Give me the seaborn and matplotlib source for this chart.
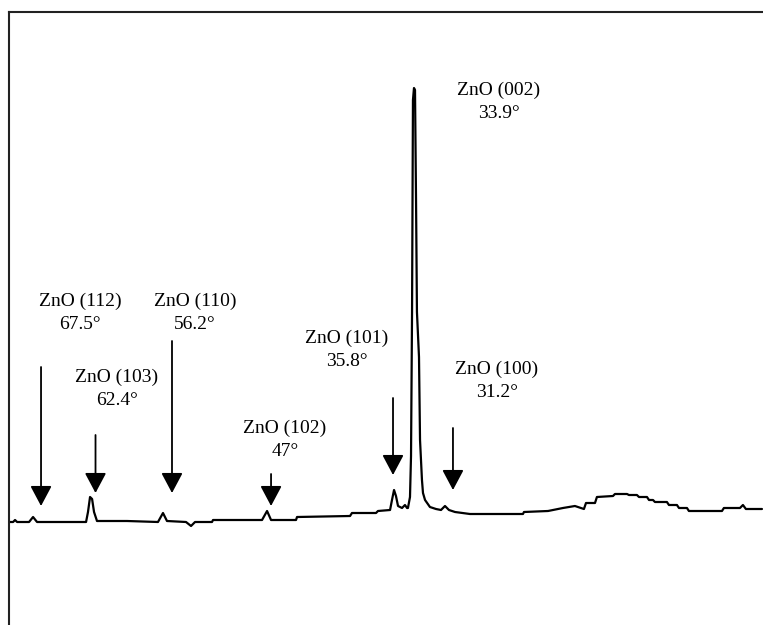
import pandas as pd
import seaborn as sns
import matplotlib.pyplot as plt

# XRD pattern of the ZnO film (2-theta in degrees, intensity in a.u.)
two_theta = [
    69.61, 69.25, 69.08, 68.90, 67.85, 67.50, 67.15, 62.85, 62.68, 62.50,
    62.32, 62.15, 61.89, 59.25, 56.54, 56.10, 55.75, 54.08, 53.64, 53.29,
    51.80, 51.71, 47.41, 46.97, 46.62, 44.43, 44.34, 39.69, 39.52, 37.41,
    37.24, 36.18, 36.01, 35.83, 35.66, 35.48, 35.13, 34.87, 34.69, 34.61,
    34.43, 34.34, 34.25, 34.17, 34.08, 33.99, 33.90, 33.82, 33.64, 33.55,
    33.38, 33.29, 33.11, 32.68, 32.15, 31.71, 31.36, 31.01, 30.48, 29.17,
    24.52, 24.43, 22.32, 21.01, 19.96, 19.17, 18.99, 18.20, 18.03, 16.62,
    16.45, 15.39, 15.22, 14.52, 14.34, 13.64, 13.46, 13.11, 12.94, 11.89,
    11.71, 11.01, 10.83, 10.13, 9.96, 7.06, 6.89, 5.48, 5.22, 4.96, 3.55,
]
intensity = [
    103, 103, 105, 103, 103, 108, 103, 103, 113, 128,
    126, 113, 104, 104, 103, 112, 104, 103, 99, 103,
    103, 105, 105, 114, 105, 105, 108, 109, 112, 112,
    114, 115, 125, 135, 129, 119, 117, 120, 117, 117,
    128, 169, 313, 525, 537, 535, 425, 313, 268, 185,
    145, 132, 125, 118, 116, 115, 119, 115, 113, 111,
    111, 113, 114, 117, 119, 116, 122, 122, 128, 129,
    131, 131, 130, 130, 128, 128, 125, 125, 123, 123,
    120, 120, 117, 117, 114, 114, 117, 117, 120, 116, 116,
]

# reflections: label, angle text, label centre, arrow x, arrow start, arrow tip
peak_names = ["ZnO (112)", "ZnO (103)", "ZnO (110)", "ZnO (102)",
              "ZnO (101)", "ZnO (002)", "ZnO (100)"]
peak_angles = ["67.5°", "62.4°", "56.2°", "47°", "35.8°", "33.9°", "31.2°"]
label_x = [63.38, 60.13, 53.29, 45.39, 39.96, 26.62, 26.80]
label_y = [312, 236, 312, 185, 275, 523, 244]
arrow_x = [66.80, 62.02, 55.31, 46.62, 35.92, None, 30.66]
arrow_top = [258, 190, 284, 151, 227, None, 197]
arrow_tip = [119, 132, 132, 119, 150, None, 135]

df = pd.DataFrame({"two_theta": two_theta, "intensity": intensity})

sns.set_style("white")
plt.rcParams["font.family"] = ["Liberation Serif", "DejaVu Serif"]

fig = plt.figure(figsize=(7.63, 6.25), dpi=100)
ax = fig.add_axes([9 / 763, 0, 1 - 9 / 763, 613 / 625])

sns.lineplot(data=df, x="two_theta", y="intensity", sort=False,
             estimator=None, color="black", lw=1.6, ax=ax)

for name, ang, lx, ly in zip(peak_names, peak_angles, label_x, label_y):
    ax.text(lx, ly, f"{name}\n{ang}", ha="center", va="center",
            fontsize=14, linespacing=1.5, color="black")

for xa, top, tip in zip(arrow_x, arrow_top, arrow_tip):
    if xa is None:
        continue
    ax.annotate("", xy=(xa, tip), xytext=(xa, top),
                arrowprops=dict(arrowstyle="-|>,head_width=0.33,head_length=0.62",
                                mutation_scale=20, lw=1.3, color="black",
                                shrinkA=0, shrinkB=0))

ax.set_xlim(69.61, 3.46)
ax.set_ylim(0, 613)
ax.set_xticks([])
ax.set_yticks([])
ax.set_xlabel("")
ax.set_ylabel("")
for side in ["right", "bottom"]:
    ax.spines[side].set_visible(False)
for side in ["top", "left"]:
    ax.spines[side].set_color("#222222")
    ax.spines[side].set_linewidth(1.5)

fig.savefig("out.png", dpi=100)
